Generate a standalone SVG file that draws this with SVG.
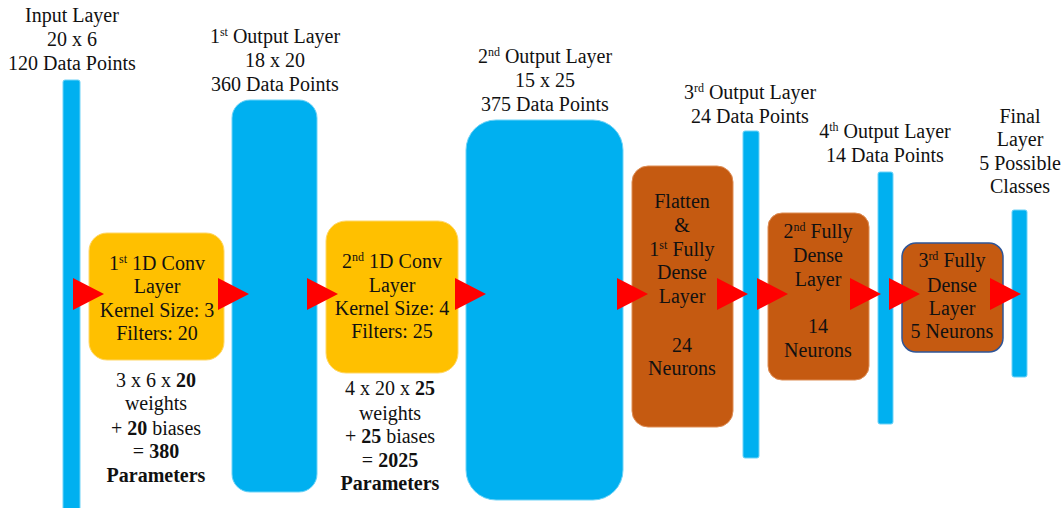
<svg xmlns="http://www.w3.org/2000/svg" xmlns:xlink="http://www.w3.org/1999/xlink" width="1064" height="508" viewBox="0 0 1064 508" font-family="'Liberation Serif', 'Times New Roman', Tinos, 'DejaVu Serif', serif">
  <style>
    text { font-family: "Liberation Serif", "Times New Roman", Tinos, "DejaVu Serif", serif; font-size: 20px; fill: #111; text-anchor: middle; }
    .sup { font-size: 12px; }
    .b { font-weight: bold; }
    .data { fill: #00B0F0; stroke: #6FD3F7; stroke-width: 1; }
    .conv { fill: #FFC000; stroke: #FFD766; stroke-width: 1; }
    .dense { fill: #C55A11; stroke: #DE8D55; stroke-width: 1; }
    .dense-edge { fill: #C55A11; stroke: #2F5597; stroke-width: 1.5; }
    .arrow { fill: #FF0000; }
  </style>
  <defs>
    <polygon id="tri" points="0,-16 31,0 0,16"/>
  </defs>
  <rect width="1064" height="508" fill="#FFFFFF"/>

  <!-- Input layer -->
  <g id="input-layer">
    <rect class="data" x="63" y="80" width="17" height="440" rx="2"/>
    <text x="72" y="22">Input Layer</text>
    <text x="72" y="46">20 x 6</text>
    <text x="72" y="70">120 Data Points</text>
  </g>

  <!-- Convolution 1 -->
  <g id="conv1">
    <rect class="conv" x="89" y="233" width="135" height="127" rx="18"/>
    <text x="157" y="270">1<tspan class="sup" dy="-7">st</tspan><tspan dy="7"> 1D Conv</tspan></text>
    <text x="157" y="293">Layer</text>
    <text x="157" y="317">Kernel Size: 3</text>
    <text x="157" y="340">Filters: 20</text>
    <text x="156" y="387">3 x 6 x <tspan class="b">20</tspan></text>
    <text x="156" y="410">weights</text>
    <text x="156" y="435">+ <tspan class="b">20</tspan> biases</text>
    <text x="156" y="458">= <tspan class="b">380</tspan></text>
    <text x="156" y="482" class="b">Parameters</text>
  </g>

  <!-- First output layer -->
  <g id="output1">
    <rect class="data" x="232" y="100" width="85" height="392" rx="18"/>
    <text x="275" y="43">1<tspan class="sup" dy="-7">st</tspan><tspan dy="7"> Output Layer</tspan></text>
    <text x="275" y="67">18 x 20</text>
    <text x="275" y="91">360 Data Points</text>
  </g>

  <!-- Convolution 2 -->
  <g id="conv2">
    <rect class="conv" x="326" y="221" width="132" height="152" rx="20"/>
    <text x="392" y="268">2<tspan class="sup" dy="-7">nd</tspan><tspan dy="7"> 1D Conv</tspan></text>
    <text x="392" y="292">Layer</text>
    <text x="392" y="315">Kernel Size: 4</text>
    <text x="392" y="338">Filters: 25</text>
    <text x="390" y="395">4 x 20 x <tspan class="b">25</tspan></text>
    <text x="390" y="420">weights</text>
    <text x="390" y="443">+ <tspan class="b">25</tspan> biases</text>
    <text x="390" y="467">= <tspan class="b">2025</tspan></text>
    <text x="390" y="490" class="b">Parameters</text>
  </g>

  <!-- Second output layer -->
  <g id="output2">
    <rect class="data" x="466" y="120" width="157" height="380" rx="30"/>
    <text x="545" y="63">2<tspan class="sup" dy="-7">nd</tspan><tspan dy="7"> Output Layer</tspan></text>
    <text x="545" y="87">15 x 25</text>
    <text x="545" y="111">375 Data Points</text>
  </g>

  <!-- Flatten + dense 1 -->
  <g id="dense1">
    <rect class="dense" x="632" y="166" width="101" height="261" rx="16"/>
    <text x="682" y="208">Flatten</text>
    <text x="682" y="232">&amp;</text>
    <text x="682" y="256">1<tspan class="sup" dy="-7">st</tspan><tspan dy="7"> Fully</tspan></text>
    <text x="682" y="279">Dense</text>
    <text x="682" y="303">Layer</text>
    <text x="682" y="352">24</text>
    <text x="682" y="375">Neurons</text>
  </g>

  <!-- Third output layer -->
  <g id="output3">
    <rect class="data" x="743" y="131" width="16" height="327" rx="2"/>
    <text x="750" y="99">3<tspan class="sup" dy="-7">rd</tspan><tspan dy="7"> Output Layer</tspan></text>
    <text x="750" y="123">24 Data Points</text>
  </g>

  <!-- Dense 2 -->
  <g id="dense2">
    <rect class="dense" x="768" y="213" width="101" height="167" rx="14"/>
    <text x="818" y="238">2<tspan class="sup" dy="-7">nd</tspan><tspan dy="7"> Fully</tspan></text>
    <text x="818" y="262">Dense</text>
    <text x="818" y="286">Layer</text>
    <text x="818" y="333">14</text>
    <text x="818" y="357">Neurons</text>
  </g>

  <!-- Fourth output layer -->
  <g id="output4">
    <rect class="data" x="878" y="172" width="15" height="252" rx="2"/>
    <text x="885" y="138">4<tspan class="sup" dy="-7">th</tspan><tspan dy="7"> Output Layer</tspan></text>
    <text x="885" y="162">14 Data Points</text>
  </g>

  <!-- Dense 3 -->
  <g id="dense3">
    <rect class="dense-edge" x="902" y="243" width="101" height="109" rx="14"/>
    <text x="952" y="267">3<tspan class="sup" dy="-7">rd</tspan><tspan dy="7"> Fully</tspan></text>
    <text x="952" y="292">Dense</text>
    <text x="952" y="315">Layer</text>
    <text x="952" y="338">5 Neurons</text>
  </g>

  <!-- Final layer -->
  <g id="final-layer">
    <rect class="data" x="1012" y="210" width="15" height="167" rx="2"/>
    <text x="1020" y="123">Final</text>
    <text x="1020" y="146">Layer</text>
    <text x="1020" y="170">5 Possible</text>
    <text x="1020" y="193">Classes</text>
  </g>

  <!-- Flow arrows -->
  <g id="connectors" class="arrow">
    <use xlink:href="#tri" x="73" y="294"/>
    <use xlink:href="#tri" x="218" y="294"/>
    <use xlink:href="#tri" x="307" y="294"/>
    <use xlink:href="#tri" x="455" y="294"/>
    <use xlink:href="#tri" x="617" y="294"/>
    <use xlink:href="#tri" x="717" y="294"/>
    <use xlink:href="#tri" x="757" y="294"/>
    <use xlink:href="#tri" x="850" y="294"/>
    <use xlink:href="#tri" x="889" y="294"/>
    <use xlink:href="#tri" x="990" y="294"/>
  </g>
</svg>
